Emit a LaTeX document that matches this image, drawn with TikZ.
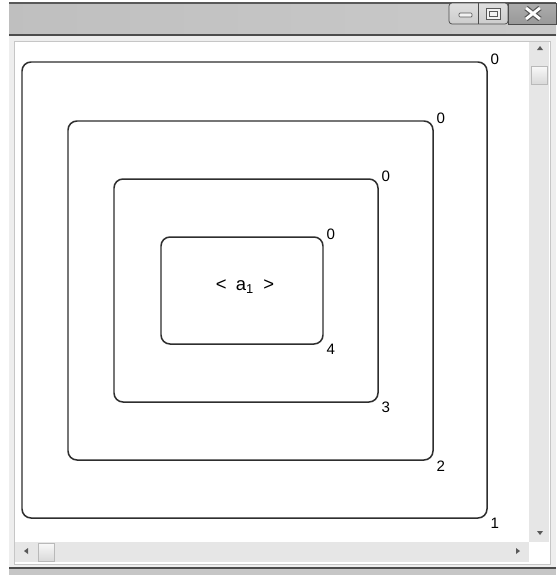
\documentclass[tikz,border=0pt]{standalone}
\usepackage{fontspec}
\setmainfont{Liberation Sans}
\usetikzlibrary{calc}

\begin{document}
\begin{tikzpicture}[x=0.02cm, y=-0.02cm,
    box/.style={draw=borderColour, line width=0.85pt, rounded corners=0.18cm, inner sep=0pt},
    lbl/.style={font=\fontsize{8.6}{10}\selectfont, inner sep=0pt},
    arrowtip/.style={fill=gray!70!black}]
    \definecolor{borderColour}{HTML}{2E2E2E}
    \definecolor{frameColour}{HTML}{EEEEEE}
    \definecolor{barColour}{HTML}{E6E6E6}

    \useasboundingbox (0,0) rectangle (556,575);

    % Window frame and title bar
    \fill[white] (0,0) rectangle (556,575);
    \fill[frameColour] (9,35) rectangle (556,575);
    \shade[left color=gray!50, right color=gray!42] (9,3) rectangle (556,35);
    \draw[gray!70!black, line width=0.8pt] (9,3) -- (556,3);
    \draw[gray!60!black, line width=0.6pt] (9,35) -- (556,35);

    % Title bar buttons
    \shade[top color=gray!25, bottom color=gray!40, draw=gray!60!black, rounded corners=0.06cm]
        (449,3) rectangle (508,24);
    \draw[gray!60!black] (478,3) -- (478,24);
    \shade[top color=gray!65, bottom color=gray!80, draw=gray!60!black] (508,3) rectangle (556,24);
    \draw[gray!70!black, fill=gray!10, rounded corners=0.02cm] (459,13) rectangle (472,17);
    \draw[gray!70!black, fill=gray!10] (486,8) rectangle (500,19);
    \draw[gray!70!black] (489,11) rectangle (497,16);
    \draw[gray!70!black, line width=3pt] (526,8) -- (540,19) (540,8) -- (526,19);
    \draw[white, line width=1.6pt] (526,8) -- (540,19) (540,8) -- (526,19);

    % Client area and scroll bars
    \fill[white] (14,41) rectangle (550,564);
    \fill[barColour] (529,42) rectangle (549,542);
    \fill[barColour] (15,542) rectangle (529,562);
    \draw[gray!45] (14,41) rectangle (550,564);
    \draw[gray!60!black, line width=0.8pt] (9,568) -- (556,568);
    \fill[gray!45] (9,569) rectangle (556,575);
    \shade[top color=gray!5, bottom color=gray!30, draw=gray!55] (531,66) rectangle (547,84);
    \shade[top color=gray!5, bottom color=gray!30, draw=gray!55] (38,543) rectangle (54,561);
    \fill[arrowtip] (537,50) -- (543,50) -- (540,46) -- cycle;
    \fill[arrowtip] (537,531) -- (543,531) -- (540,535) -- cycle;
    \fill[arrowtip] (28,548) -- (28,554) -- (24,551) -- cycle;
    \fill[arrowtip] (516,548) -- (516,554) -- (520,551) -- cycle;

    % Nested boxes
    \foreach \n/\cx/\cy/\w/\h in {1/254.5/290/465/456, 2/250.5/290.5/365/339,
                                  3/246/290.5/264/223, 4/242/290.5/162/107} {
        \node[box, minimum width=\w*0.02cm, minimum height=\h*0.02cm] (b\n) at (\cx,\cy) {};
        \node[lbl] (top\n) at ($(b\n.north east)+(7,-2)$) {0};
        \node[lbl] (bot\n) at ($(b\n.south east)+(7,5)$) {\n};
    }

    \node[lbl, font=\fontsize{10.5}{12}\selectfont] (a1) at (245,287) {<\enspace a\textsubscript{1}\enspace>};

\end{tikzpicture}
\end{document}
